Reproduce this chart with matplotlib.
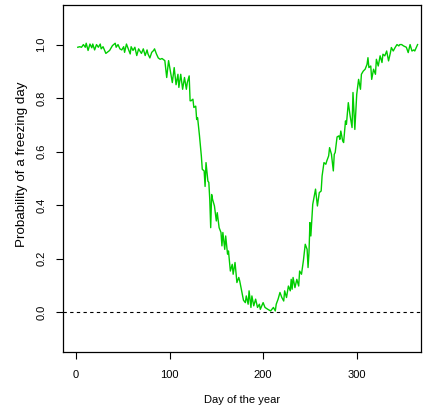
import numpy as np
import matplotlib
matplotlib.use("Agg")
import matplotlib.pyplot as plt

plt.rcParams['font.family'] = ['Liberation Sans', 'DejaVu Sans']

# day of year and probability of a freezing day
days = [2, 4, 6, 8, 10, 11, 13, 15, 17, 18,
        20, 22, 24, 26, 27, 29, 32, 36, 39, 42,
        43, 45, 47, 49, 51, 52, 54, 56, 58, 59,
        61, 63, 65, 67, 68, 70, 72, 74, 76, 77,
        79, 81, 83, 84, 86, 88, 90, 92, 95, 97,
        99, 100, 103, 105, 107, 109, 110, 112, 114, 116,
        118, 119, 121, 122, 123, 125, 126, 128, 129, 130,
        132, 134, 135, 137, 138, 139, 141, 142, 143, 144,
        145, 146, 148, 150, 151, 153, 155, 156, 157, 159,
        160, 162, 163, 165, 167, 168, 170, 172, 174, 175,
        177, 179, 181, 182, 184, 185, 187, 188, 190, 192,
        194, 196, 197, 200, 202, 205, 208, 211, 213, 214,
        216, 218, 220, 222, 223, 225, 227, 229, 230, 231,
        232, 234, 236, 238, 239, 241, 243, 245, 247, 248,
        249, 250, 251, 253, 255, 256, 258, 260, 262, 263,
        265, 267, 268, 270, 271, 273, 275, 276, 277, 279,
        281, 282, 283, 285, 286, 288, 289, 291, 293, 295,
        296, 298, 300, 302, 304, 305, 307, 309, 311, 312,
        313, 315, 316, 318, 320, 321, 323, 325, 327, 328,
        330, 332, 334, 336, 337, 339, 341, 343, 345, 346,
        348, 350, 353, 355, 357, 359, 361, 362, 365]
prob = [0.99, 0.992, 0.99, 1.0, 0.99, 1.005, 0.978, 1.002, 0.988, 1.002,
        0.98, 1.0, 0.99, 1.002, 0.984, 0.992, 0.967, 0.978, 0.996, 1.005,
        0.99, 1.0, 0.984, 0.98, 0.992, 0.971, 1.002, 0.984, 0.965, 0.992,
        0.978, 0.99, 0.959, 0.984, 0.978, 0.967, 0.984, 0.959, 0.98, 0.965,
        0.95, 0.971, 0.978, 0.984, 0.965, 0.95, 0.945, 0.948, 0.94, 0.877,
        0.94, 0.92, 0.858, 0.914, 0.85, 0.889, 0.84, 0.889, 0.833, 0.877,
        0.833, 0.858, 0.883, 0.79, 0.79, 0.796, 0.765, 0.77, 0.72, 0.727,
        0.66, 0.584, 0.534, 0.528, 0.47, 0.559, 0.49, 0.485, 0.422, 0.316,
        0.44, 0.422, 0.397, 0.341, 0.372, 0.316, 0.298, 0.248, 0.298, 0.235,
        0.285, 0.217, 0.229, 0.154, 0.179, 0.142, 0.186, 0.111, 0.13, 0.117,
        0.08, 0.045, 0.036, 0.061, 0.03, 0.08, 0.018, 0.061, 0.024, 0.049,
        0.018, 0.03, 0.011, 0.036, 0.018, 0.011, 0.005, 0.018, 0.005, 0.03,
        0.049, 0.074, 0.055, 0.042, 0.08, 0.055, 0.098, 0.08, 0.123, 0.086,
        0.13, 0.092, 0.123, 0.098, 0.154, 0.142, 0.192, 0.254, 0.235, 0.167,
        0.223, 0.335, 0.285, 0.403, 0.44, 0.46, 0.397, 0.447, 0.453, 0.509,
        0.559, 0.553, 0.565, 0.584, 0.615, 0.59, 0.528, 0.59, 0.597, 0.655,
        0.659, 0.646, 0.677, 0.64, 0.634, 0.715, 0.702, 0.783, 0.733, 0.69,
        0.821, 0.683, 0.814, 0.87, 0.833, 0.889, 0.901, 0.908, 0.926, 0.951,
        0.914, 0.92, 0.87, 0.908, 0.889, 0.945, 0.92, 0.958, 0.933, 0.964,
        0.958, 0.976, 0.939, 0.97, 0.989, 0.976, 0.989, 1.0, 0.995, 1.0,
        1.0, 0.995, 0.99, 0.97, 1.0, 0.976, 0.98, 0.976, 1.0]

xticks = [0, 100, 200, 300]
yticks = [0.0, 0.2, 0.4, 0.6, 0.8, 1.0]

fig = plt.figure(figsize=(4.24, 4.13), dpi=100)
ax = fig.add_axes([0.149, 0.148, 0.844, 0.840])

ax.plot(days, prob, color='#00CD00', lw=1.0)
ax.axhline(0, color='black', lw=0.8, dashes=(3, 3))

ax.set_xlim(-13.6, 368.7)
ax.set_ylim(-0.148, 1.148)
ax.set_xticks(xticks)
ax.set_yticks(yticks)
ax.set_xticklabels([str(t) for t in xticks])
ax.set_yticklabels(['%.1f' % t for t in yticks], rotation=90, va='center')
ax.tick_params(direction='out', length=5, width=0.8, labelsize=8)
ax.tick_params(axis='x', pad=8)
ax.tick_params(axis='y', pad=7)
for s in ax.spines.values():
    s.set_linewidth(0.9)

ax.set_xlabel('Day of the year', fontsize=8, labelpad=11)
ax.set_ylabel('Probability of a freezing day', fontsize=9.6)
ax.yaxis.set_label_coords(-0.097, 0.542)

fig.savefig('out.png', dpi=100)
